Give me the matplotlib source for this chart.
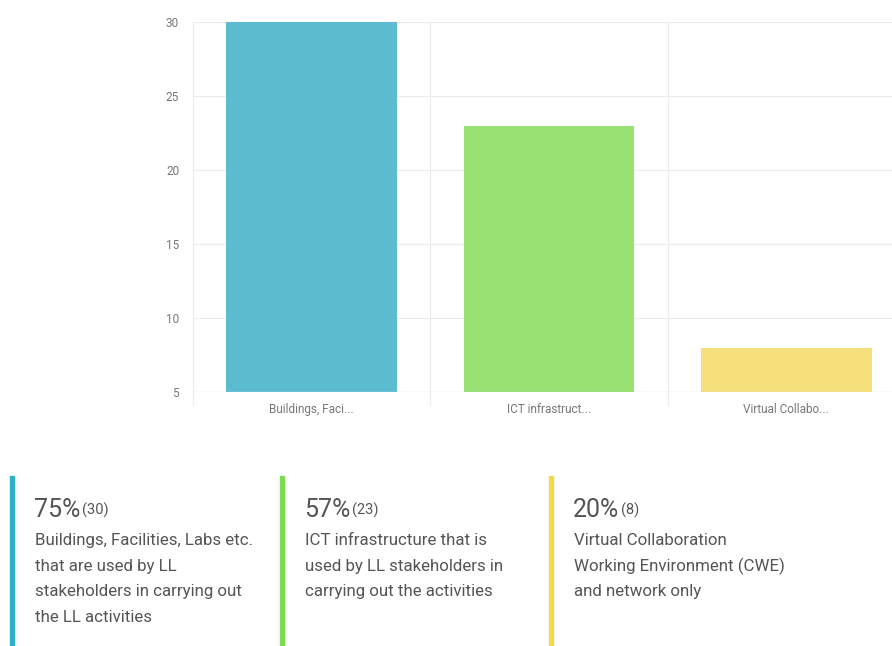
import matplotlib
matplotlib.use("Agg")
import matplotlib.pyplot as plt
from matplotlib.patches import Rectangle

plt.rcParams['font.family'] = ['Roboto', 'DejaVu Sans']

categories = ["Buildings, Faci...", "ICT infrastruct...", "Virtual Collabo..."]
counts = [30, 23, 8]
percents = [75, 57, 20]
descriptions = [
    "Buildings, Facilities, Labs etc.\nthat are used by LL\nstakeholders in carrying out\nthe LL activities",
    "ICT infrastructure that is\nused by LL stakeholders in\ncarrying out the activities",
    "Virtual Collaboration\nWorking Environment (CWE)\nand network only",
]
yticks = [5, 10, 15, 20, 25, 30]

bar_colors = ["#5bbcd0", "#98e172", "#f5e07c"]
stripe_colors = ["#2eb0c8", "#7ddc4e", "#f2d94c"]

W, H = 892, 646
fig = plt.figure(figsize=(W / 100, H / 100), dpi=100)

# chart area (extends a little past the right edge of the figure)
ax_l, ax_r, ax_t, ax_b = 193, 905, 22, 392
ax = fig.add_axes([ax_l / W, 1 - ax_b / H, (ax_r - ax_l) / W, (ax_b - ax_t) / H])
x = list(range(len(categories)))
ax.bar(x, [c - 5 for c in counts], bottom=5, width=0.72, color=bar_colors, zorder=3)
ax.set_xlim(-0.5, 2.5)
ax.set_ylim(5, 30)
ax.set_yticks(yticks)
ax.set_yticklabels([str(t) for t in yticks])
ax.set_xticks(x)
ax.set_xticklabels(categories)
ax.tick_params(axis='y', length=0, pad=10, labelsize=8.5, labelcolor="#777777")
ax.tick_params(axis='x', length=0, pad=8, labelsize=8.5, labelcolor="#777777")
for s in ax.spines.values():
    s.set_visible(False)
ax.grid(axis='y', color="#ececec", lw=0.8, zorder=0)
ax.axhline(5, color="#d8d8d8", lw=0.9, zorder=4)
for b in [-0.5, 0.5, 1.5, 2.5]:
    ax.plot([b, b], [5 - 0.9, 30], color="#ececec", lw=0.8, zorder=0, clip_on=False)

# summary cards
card_x = [10, 280, 549]
for i in range(len(categories)):
    xs = card_x[i]
    fig.patches.append(Rectangle((xs / W, 0), 3.5 / W, (H - 476) / H,
                                 transform=fig.transFigure, color=stripe_colors[i]))
    t = fig.text((xs + 24) / W, 1 - 517 / H, f"{percents[i]}%", fontsize=18,
                 color="#555555", va='baseline', ha='left')
    fig.canvas.draw()
    bb = t.get_window_extent()
    fig.text((bb.x1 + 2) / W, 1 - 515 / H, f"({counts[i]})", fontsize=10.5,
             color="#555555", va='baseline', ha='left')
    lines = descriptions[i].split("\n")
    for j, line in enumerate(lines):
        fig.text((xs + 25) / W, 1 - (545 + j * 25.7) / H, line, fontsize=12.2,
                 color="#555555", va='baseline', ha='left')

fig.savefig("out.png", dpi=100)
